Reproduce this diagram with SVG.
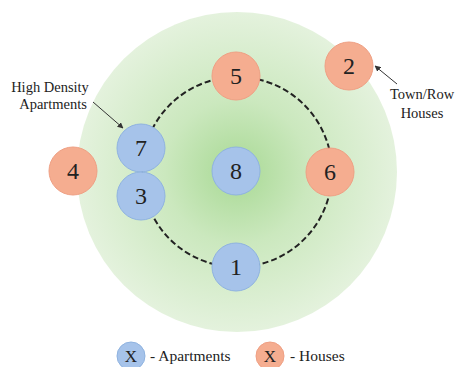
<svg xmlns="http://www.w3.org/2000/svg" width="461" height="367" viewBox="0 0 461 367">
<defs>
<radialGradient id="g" cx="237" cy="172" r="160" gradientUnits="userSpaceOnUse">
<stop offset="0" stop-color="#A8D994"/>
<stop offset="0.45" stop-color="#CBE8BE"/>
<stop offset="1" stop-color="#E4F2DD"/>
</radialGradient>
<marker id="ah" viewBox="0 0 10 10" refX="9" refY="5" markerWidth="6" markerHeight="6" orient="auto" markerUnits="userSpaceOnUse">
<path d="M0,0 L10,5 L0,10 z" fill="#333"/>
</marker>
<style>
.apt{fill:#A6C3EA;stroke:#8FB3E0;stroke-width:1}
.hs{fill:#F5AD90;stroke:#EFA084;stroke-width:1}
.num{font-family:"Liberation Serif",serif;font-size:24px;fill:#222;text-anchor:middle}
.lbl{font-family:"Liberation Serif",serif;font-size:14.5px;fill:#222;text-anchor:middle}
.leg{font-family:"Liberation Serif",serif;font-size:15.5px;fill:#222}
</style>
</defs>
<rect width="461" height="367" fill="#fff"/>
<circle cx="237" cy="172" r="160" fill="url(#g)"/>
<g id="connectors">
<circle cx="237" cy="172" r="95" fill="none" stroke="#222" stroke-width="2" stroke-dasharray="6,3"/>
<line x1="93" y1="102" x2="123" y2="128" stroke="#333" stroke-width="1" marker-end="url(#ah)"/>
<line x1="397" y1="84" x2="375" y2="66" stroke="#333" stroke-width="1" marker-end="url(#ah)"/>
</g>
<g id="n5"><circle class="hs" cx="236" cy="76" r="24"/><text class="num" x="236" y="84">5</text></g>
<g id="n2"><circle class="hs" cx="349" cy="66" r="24"/><text class="num" x="349" y="74">2</text></g>
<g id="n6"><circle class="hs" cx="330" cy="172" r="24"/><text class="num" x="330" y="180">6</text></g>
<g id="n4"><circle class="hs" cx="73" cy="171" r="24"/><text class="num" x="73" y="179">4</text></g>
<g id="n7"><circle class="apt" cx="141" cy="148" r="24"/><text class="num" x="141" y="156">7</text></g>
<g id="n3"><circle class="apt" cx="141" cy="196" r="24"/><text class="num" x="141" y="204">3</text></g>
<g id="n8"><circle class="apt" cx="236" cy="171" r="24"/><text class="num" x="236" y="179">8</text></g>
<g id="n1"><circle class="apt" cx="236" cy="267" r="24"/><text class="num" x="236" y="275">1</text></g>
<g id="label-apartments">
<text class="lbl" x="50" y="92">High Density</text>
<text class="lbl" x="53" y="109">Apartments</text>
</g>
<g id="label-houses">
<text class="lbl" x="422" y="99">Town/Row</text>
<text class="lbl" x="422" y="118">Houses</text>
</g>
<g id="legend">
<circle class="apt" cx="131" cy="356" r="14"/>
<text class="num" x="131" y="362" style="font-size:17px">X</text>
<text class="leg" x="150" y="361">- Apartments</text>
<circle class="hs" cx="270" cy="356" r="14"/>
<text class="num" x="270" y="362" style="font-size:17px">X</text>
<text class="leg" x="290" y="361">- Houses</text>
</g>
</svg>
